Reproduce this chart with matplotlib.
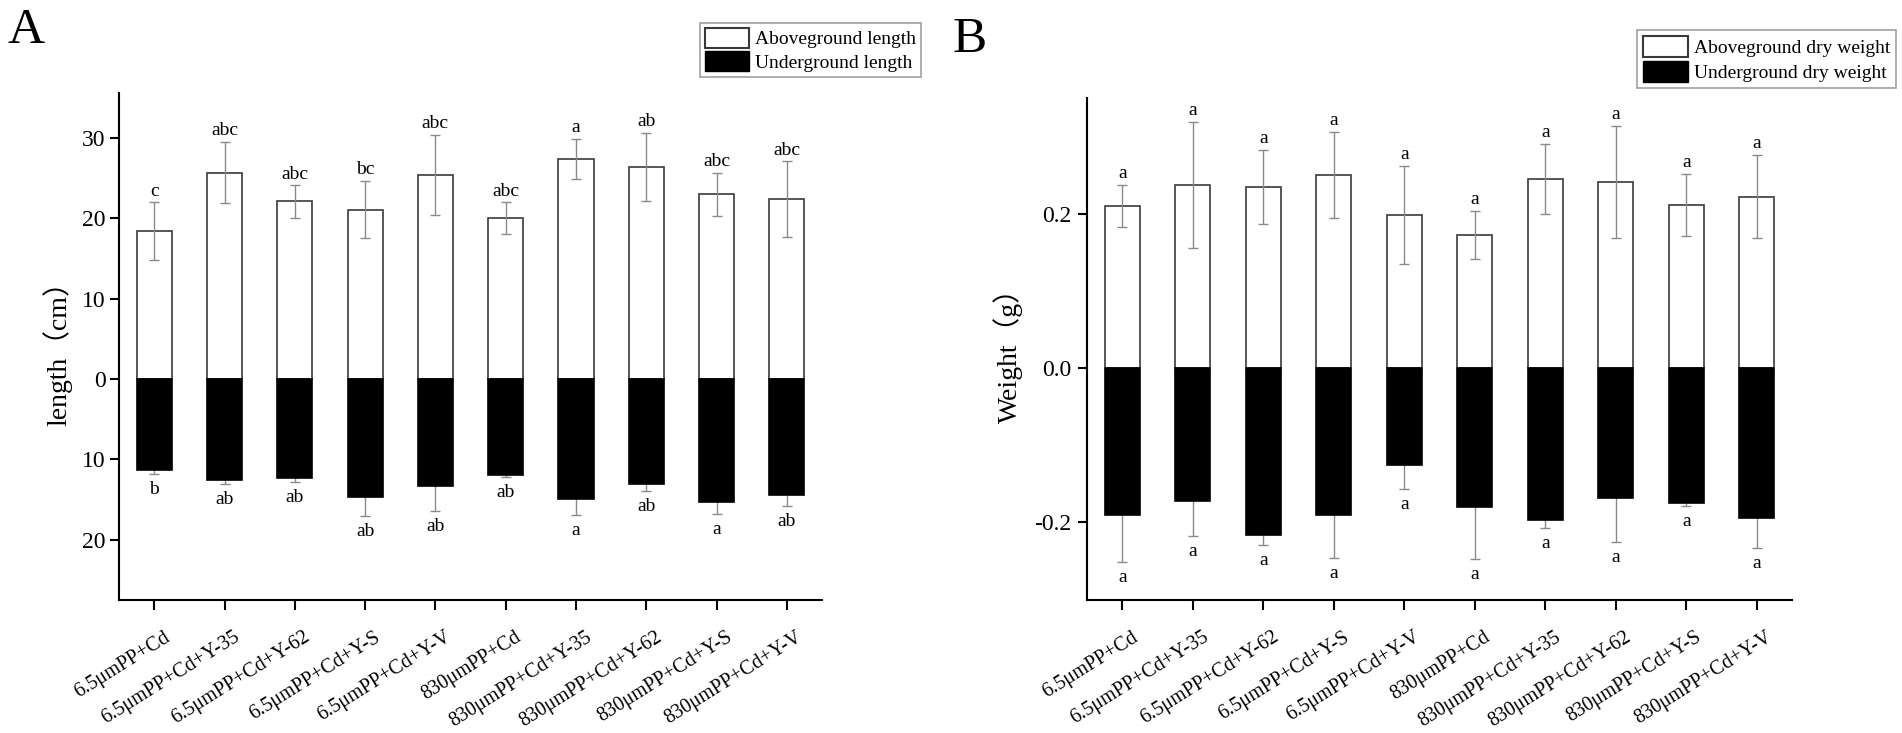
import numpy as np
import matplotlib
matplotlib.use("Agg")
import matplotlib.pyplot as plt
from matplotlib.patches import Patch
from matplotlib.transforms import ScaledTranslation

plt.rcParams['font.family'] = ['Liberation Serif', 'Noto Sans CJK SC', 'DejaVu Sans']

# treatments (same order in both panels)
groups = ["6.5μmPP+Cd", "6.5μmPP+Cd+Y-35", "6.5μmPP+Cd+Y-62", "6.5μmPP+Cd+Y-S", "6.5μmPP+Cd+Y-V",
          "830μmPP+Cd", "830μmPP+Cd+Y-35", "830μmPP+Cd+Y-62", "830μmPP+Cd+Y-S", "830μmPP+Cd+Y-V"]

# panel A: length (cm)
len_above = [18.4, 25.7, 22.1, 21.1, 25.4, 20.0, 27.4, 26.4, 23.0, 22.4]
len_above_err = [3.6, 3.8, 2.0, 3.6, 5.0, 2.0, 2.5, 4.2, 2.7, 4.7]
len_below = [11.3, 12.6, 12.3, 14.7, 13.3, 12.0, 14.9, 13.0, 15.3, 14.4]
len_below_err = [0.5, 0.5, 0.5, 2.3, 3.1, 0.2, 2.0, 0.9, 1.5, 1.4]
len_above_sig = ["c", "abc", "abc", "bc", "abc", "abc", "a", "ab", "abc", "abc"]
len_below_sig = ["b", "ab", "ab", "ab", "ab", "ab", "a", "ab", "a", "ab"]

# panel B: dry weight (g)
wt_above = [0.211, 0.238, 0.236, 0.251, 0.199, 0.173, 0.246, 0.242, 0.212, 0.223]
wt_above_err = [0.027, 0.082, 0.048, 0.056, 0.064, 0.031, 0.045, 0.073, 0.040, 0.054]
wt_below = [0.191, 0.173, 0.217, 0.191, 0.125, 0.180, 0.197, 0.168, 0.175, 0.194]
wt_below_err = [0.061, 0.045, 0.013, 0.056, 0.032, 0.068, 0.010, 0.058, 0.004, 0.040]
wt_above_sig = ["a"] * 10
wt_below_sig = ["a"] * 10

fig = plt.figure(figsize=(19.02, 7.33), dpi=100)
axA = fig.add_axes([0.0626, 0.1814, 0.3696, 0.6917])
axB = fig.add_axes([0.5715, 0.1814, 0.3707, 0.6849])


def draw_panel(ax, above, above_err, below, below_err, above_sig, below_sig):
    x = np.arange(len(groups))
    above = np.array(above)
    below = np.array(below)
    ax.bar(x, above, width=0.5, color='white', edgecolor='#3a3a3a', linewidth=1.2, zorder=2)
    ax.bar(x, -below, width=0.5, color='black', edgecolor='black', linewidth=1.2, zorder=2)
    ax.errorbar(x, above, yerr=above_err, fmt='none', ecolor='#8a8a8a', elinewidth=1,
                capsize=3.5, capthick=1, zorder=3)
    # drawn behind the black bars so only the lower half shows
    ax.errorbar(x, -below, yerr=below_err, fmt='none', ecolor='#8a8a8a', elinewidth=1,
                capsize=3.5, capthick=1, zorder=1)
    for xi, a, e, s in zip(x, above, above_err, above_sig):
        ax.annotate(s, (xi, a + e), xytext=(0, 2), textcoords='offset points',
                    ha='center', va='bottom', fontsize=14)
    for xi, b, e, s in zip(x, below, below_err, below_sig):
        ax.annotate(s, (xi, -(b + e)), xytext=(0, -5), textcoords='offset points',
                    ha='center', va='top', fontsize=14)

    ax.set_xlim(-0.5, 9.5)
    ax.spines['top'].set_visible(False)
    ax.spines['right'].set_visible(False)
    ax.spines['left'].set_linewidth(1.5)
    ax.spines['bottom'].set_linewidth(1.5)
    ax.tick_params(axis='y', direction='out', length=6.5, width=1.5, labelsize=17)
    ax.tick_params(axis='x', direction='out', length=7, width=1.5, pad=13)
    ax.set_xticks(x)
    ax.set_xticklabels(groups, rotation=32, ha='right', rotation_mode='anchor', fontsize=14.5)
    shift = ScaledTranslation(9 / 100, 0, fig.dpi_scale_trans)
    for lab in ax.get_xticklabels():
        lab.set_transform(lab.get_transform() + shift)


draw_panel(axA, len_above, len_above_err, len_below, len_below_err, len_above_sig, len_below_sig)
axA.set_ylim(-27.5, 35.6)
axA.set_yticks([-20, -10, 0, 10, 20, 30])
axA.set_yticklabels(["20", "10", "0", "10", "20", "30"])
axA.tick_params(axis='y', pad=3)
axA.set_ylabel("length（cm）", fontsize=20)
axA.yaxis.set_label_coords(-0.067, 0.5)

draw_panel(axB, wt_above, wt_above_err, wt_below, wt_below_err, wt_above_sig, wt_below_sig)
axB.set_ylim(-0.301, 0.351)
axB.set_yticks([-0.2, 0.0, 0.2])
axB.set_yticklabels(["-0.2", "0.0", "0.2"])
axB.tick_params(axis='y', pad=5)
axB.set_ylabel("Weight（g）", fontsize=20)
axB.yaxis.set_label_coords(-0.091, 0.5)

# legends
legA = fig.legend(handles=[Patch(facecolor='white', edgecolor='#3a3a3a', linewidth=1.5, label="Aboveground length"),
                           Patch(facecolor='black', edgecolor='black', label="Underground length")],
                  loc='upper right', bbox_to_anchor=(0.4842, 0.9686), fontsize=14, frameon=True,
                  fancybox=False, edgecolor='#888888', borderaxespad=0, borderpad=0.25,
                  handlelength=2.3, handleheight=1.2, handletextpad=0.3, labelspacing=0.15)
legA.get_frame().set_linewidth(1.2)
legB = fig.legend(handles=[Patch(facecolor='white', edgecolor='#3a3a3a', linewidth=1.5, label="Aboveground dry weight"),
                           Patch(facecolor='black', edgecolor='black', label="Underground dry weight")],
                  loc='upper right', bbox_to_anchor=(0.9968, 0.959), fontsize=14, frameon=True,
                  fancybox=False, edgecolor='#888888', borderaxespad=0, borderpad=0.3,
                  handlelength=2.3, handleheight=1.3, handletextpad=0.3, labelspacing=0.2)
legB.get_frame().set_linewidth(1.2)

# panel letters
fig.text(7 / 1902, 1 - 43 / 733, "A", fontsize=37, va='baseline', ha='left')
fig.text(953 / 1902, 1 - 52 / 733, "B", fontsize=37, va='baseline', ha='left')

fig.savefig("out.png", dpi=100)
